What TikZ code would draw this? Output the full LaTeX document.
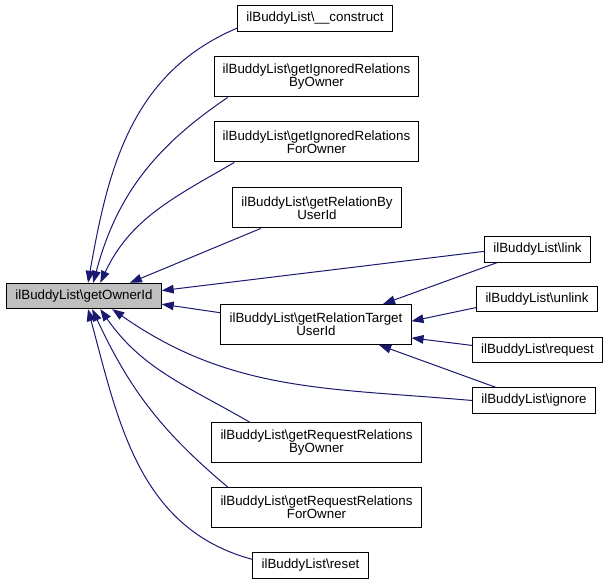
\documentclass[tikz,border=0pt]{standalone}
\usepackage{fontspec}
\setmainfont{Liberation Sans}
\usetikzlibrary{arrows.meta}
\definecolor{edgeblue}{HTML}{191970}
\newcommand{\bl}{ilBuddyList\textbackslash}
\begin{document}
\begin{tikzpicture}[x=0.75pt,y=0.75pt,
  fn/.style={draw=black,line width=0.75pt,fill=white,align=center,inner xsep=6.5pt,
    inner ysep=2pt,minimum height=19pt,font=\fontsize{10}{9.75}\selectfont},
  fntwo/.style={fn,minimum height=30pt},
  call/.style={edgeblue,line width=0.75pt,-{Triangle[length=9pt,width=6.5pt]}}]
  \useasboundingbox (0,0) rectangle (609,585);
  \node[fn,fill=gray!50] (own) at (84,289) {\bl getOwnerId};
  \node[fn] (cons) at (315,566.5) {\bl\_\_construct};
  \node[fntwo] (ignBy) at (316.5,508) {\bl getIgnoredRelations\\ByOwner};
  \node[fntwo] (ignFor) at (316.5,443) {\bl getIgnoredRelations\\ForOwner};
  \node[fntwo] (relBy) at (317,377) {\bl getRelationBy\\UserId};
  \node[fntwo] (relTgt) at (316,260.5) {\bl getRelationTarget\\UserId};
  \node[fntwo] (reqBy) at (316.5,142.5) {\bl getRequestRelations\\ByOwner};
  \node[fntwo] (reqFor) at (316.5,77.5) {\bl getRequestRelations\\ForOwner};
  \node[fn] (reset) at (310.5,19.5) {\bl reset};
  \node[fn] (link) at (537.5,335.5) {\bl link};
  \node[fn] (unlink) at (537,286) {\bl unlink};
  \node[fn] (request) at (537.5,235) {\bl request};
  \node[fn] (ignore) at (534,184.5) {\bl ignore};
  % callers of getOwnerId
  \foreach \src/\a/\o/\b/\i in {cons/187/-157/73/80, ignBy/193/-146/55/75,
      ignFor/194/-150/39/65, reset/174/165/-73/-75, reqFor/167/140/-58/-65,
      reqBy/163/150/-39/-55, ignore/180/175/-25/-35}
    \draw[call] (\src.\a) to[out=\o,in=\i] (own.\b);
  \draw[call] (relBy.200) -- (own.16);
  \draw[call] (link.182) -- (own.4);
  \draw[call] (relTgt.173) -- (own.-6);
  % callers of getRelationTargetUserId
  \foreach \src/\a/\b in {link/198/17, unlink/188/2, request/176/-8, ignore/161/-18}
    \draw[call] (\src.\a) -- (relTgt.\b);
\end{tikzpicture}
\end{document}
